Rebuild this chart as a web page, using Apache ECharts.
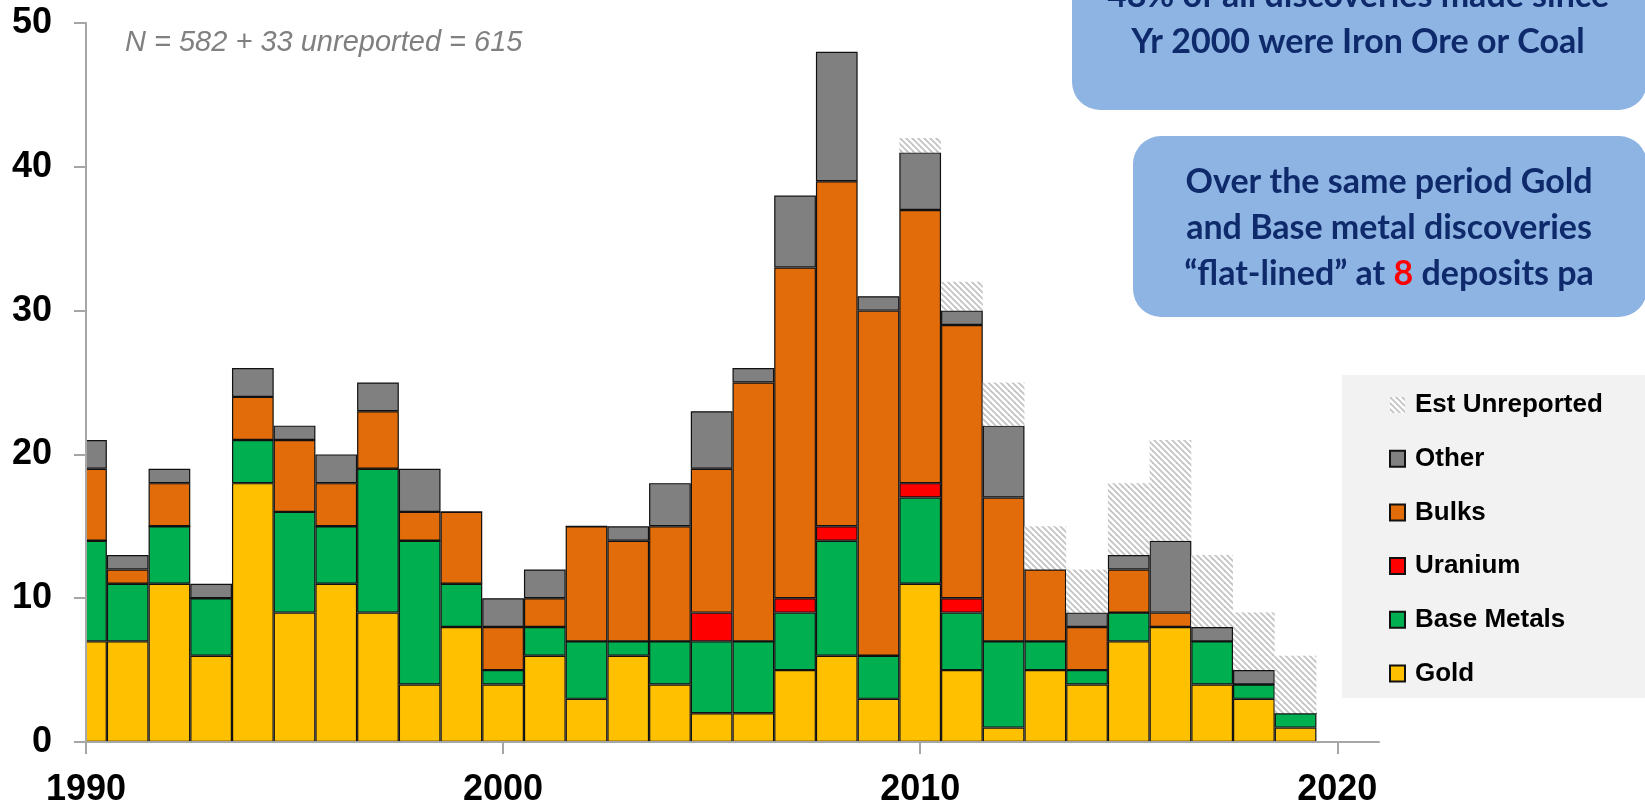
<!DOCTYPE html>
<html>
<head>
<meta charset="utf-8">
<script src="https://cdn.jsdelivr.net/npm/echarts@6/dist/echarts.min.js"></script>
<style>
  body { margin: 0; background: #fff; }
  #chart { width: 1645px; height: 801px; }
</style>
</head>
<body>
<div id="chart"></div>
<script>
// discoveries per year, stacked by commodity
var years = [1990, 1991, 1992, 1993, 1994, 1995, 1996, 1997, 1998, 1999,
             2000, 2001, 2002, 2003, 2004, 2005, 2006, 2007, 2008, 2009,
             2010, 2011, 2012, 2013, 2014, 2015, 2016, 2017, 2018, 2019];
var gold       = [7, 7, 11, 6, 18, 9, 11, 9, 4, 8, 4, 6, 3, 6, 4, 2, 2, 5, 6, 3, 11, 5, 1, 5, 4, 7, 8, 4, 3, 1];
var baseMetals = [7, 4, 4, 4, 3, 7, 4, 10, 10, 3, 1, 2, 4, 1, 3, 5, 5, 4, 8, 3, 6, 4, 6, 2, 1, 2, 0, 3, 1, 1];
var uranium    = [0, 0, 0, 0, 0, 0, 0, 0, 0, 0, 0, 0, 0, 0, 0, 2, 0, 1, 1, 0, 1, 1, 0, 0, 0, 0, 0, 0, 0, 0];
var bulks      = [5, 1, 3, 0, 3, 5, 3, 4, 2, 5, 3, 2, 8, 7, 8, 10, 18, 23, 24, 24, 19, 19, 10, 5, 3, 3, 1, 0, 0, 0];
var other      = [2, 1, 1, 1, 2, 1, 2, 2, 3, 0, 2, 2, 0, 1, 3, 4, 1, 5, 9, 1, 4, 1, 5, 0, 1, 1, 5, 1, 1, 0];
var unreported = [0, 0, 0, 0, 0, 0, 0, 0, 0, 0, 0, 0, 0, 0, 0, 0, 0, 0, 0, 0, 1, 2, 3, 3, 3, 5, 7, 5, 4, 4];
var tickYears = [1990, 2000, 2010, 2020];

// layout
var gridLeft = 86, gridRight = 266, gridTop = 23, gridBottom = 59;
var xMin = 1990, xMax = 2021;
var barW = (1645 - gridLeft - gridRight) / (xMax - xMin);

// legend font: Arial Narrow look-alike if present
function hasFont(name) {
  var c = document.createElement('canvas').getContext('2d');
  c.font = 'bold 30px monospace';
  var a = c.measureText('Est Unreported').width;
  c.font = 'bold 30px "' + name + '", monospace';
  return c.measureText('Est Unreported').width !== a;
}
var narrow = hasFont('Liberation Sans Narrow');
var legendFamily = narrow ? 'Liberation Sans Narrow' : 'Liberation Sans';
var legendSize = narrow ? 31 : 26;

// hatch pattern for the unreported estimate
var hatch = document.createElement('canvas');
hatch.width = 6; hatch.height = 6;
var hc = hatch.getContext('2d');
hc.fillStyle = '#ffffff';
hc.fillRect(0, 0, 6, 6);
hc.strokeStyle = '#c4c4c4';
hc.lineWidth = 1.8;
[-6, 0, 6].forEach(function (o) {
  hc.beginPath();
  hc.moveTo(o - 1, -1);
  hc.lineTo(o + 7, 7);
  hc.stroke();
});

// value first, year second: stacking goes on the first numeric column
function barSeries(name, vals, color, border) {
  return {
    name: name,
    type: 'bar',
    stack: 'total',
    clip: true,
    barWidth: barW,
    encode: { x: 1, y: 0 },
    data: years.map(function (y, i) { return [vals[i], y]; }),
    itemStyle: {
      color: color,
      borderColor: border ? '#111' : 'transparent',
      borderWidth: border ? 1.2 : 0
    },
    emphasis: { disabled: true }
  };
}

var chart = echarts.init(document.getElementById('chart'));
chart.setOption({
  animation: false,
  grid: { left: gridLeft, right: gridRight, top: gridTop, bottom: gridBottom, outerBoundsMode: 'none' },
  xAxis: {
    type: 'value', min: xMin, max: xMax, interval: 10, z: 5,
    splitLine: { show: false },
    axisLine: { lineStyle: { color: '#a6a6a6', width: 2 } },
    axisTick: { customValues: tickYears, length: 12, lineStyle: { color: '#a6a6a6', width: 2 } },
    axisLabel: {
      customValues: tickYears, margin: 30,
      formatter: function (v) { return String(v); },
      color: '#000', fontFamily: 'Liberation Sans, Arial, sans-serif', fontWeight: 'bold', fontSize: 36
    }
  },
  yAxis: {
    type: 'value', min: 0, max: 50, interval: 10, z: 5,
    splitLine: { show: false },
    axisLine: { show: true, lineStyle: { color: '#a6a6a6', width: 2 } },
    axisTick: { show: true, length: 12, lineStyle: { color: '#a6a6a6', width: 2 } },
    axisLabel: {
      margin: 34,
      color: '#000', fontFamily: 'Liberation Sans, Arial, sans-serif', fontWeight: 'bold', fontSize: 36
    }
  },
  legend: {
    orient: 'vertical',
    left: 1384, top: 384,
    itemWidth: 15, itemHeight: 16, itemGap: 21.7,
    icon: 'rect',
    data: ['Est Unreported', 'Other', 'Bulks', 'Uranium', 'Base Metals', 'Gold'],
    textStyle: {
      color: '#000', fontFamily: legendFamily, fontWeight: 'bold',
      fontSize: legendSize, lineHeight: 32, padding: [0, 0, 0, 5]
    },
    selectedMode: false
  },
  graphic: [
    // the 1990 bar is cut off at the y axis
    { type: 'rect', z: 4, shape: { x: 56, y: 0, width: 29.5, height: 742 }, style: { fill: '#fff' } },
    { type: 'rect', z: -1, shape: { x: 1342, y: 375, width: 310, height: 323 }, style: { fill: '#f2f2f2' } },
    { type: 'rect', shape: { x: 1072, y: -80, width: 575, height: 190, r: 28 }, style: { fill: '#8eb4e3' } },
    { type: 'rect', shape: { x: 1133, y: 136, width: 514, height: 181, r: 28 }, style: { fill: '#8eb4e3' } },
    {
      type: 'text', x: 1358, y: 19,
      style: {
        text: '48% of all discoveries made since\nYr 2000 were Iron Ore or Coal',
        fill: '#0f2a6b', font: 'bold 34px Lato, "Open Sans", sans-serif',
        lineHeight: 46, align: 'center', verticalAlign: 'middle'
      }
    },
    {
      type: 'text', x: 1389, y: 228,
      style: {
        text: 'Over the same period Gold\nand Base metal discoveries\n\u201cflat-lined\u201d at {r|8} deposits pa',
        fill: '#0f2a6b', font: 'bold 34px Lato, "Open Sans", sans-serif',
        lineHeight: 46, align: 'center', verticalAlign: 'middle',
        rich: { r: { fill: '#ff0000', font: 'bold 34px Lato, "Open Sans", sans-serif', lineHeight: 46 } }
      }
    },
    {
      type: 'text', x: 125, y: 43,
      style: {
        text: 'N = 582 + 33 unreported = 615',
        fill: '#808080', font: 'italic 29px "Liberation Sans", Arial, sans-serif',
        verticalAlign: 'middle'
      }
    }
  ],
  series: [
    barSeries('Gold', gold, '#ffc000', true),
    barSeries('Base Metals', baseMetals, '#00b050', true),
    barSeries('Uranium', uranium, '#ff0000', true),
    barSeries('Bulks', bulks, '#e36c0a', true),
    barSeries('Other', other, '#808080', true),
    barSeries('Est Unreported', unreported, { image: hatch, repeat: 'repeat' }, false)
  ]
});
</script>
</body>
</html>
